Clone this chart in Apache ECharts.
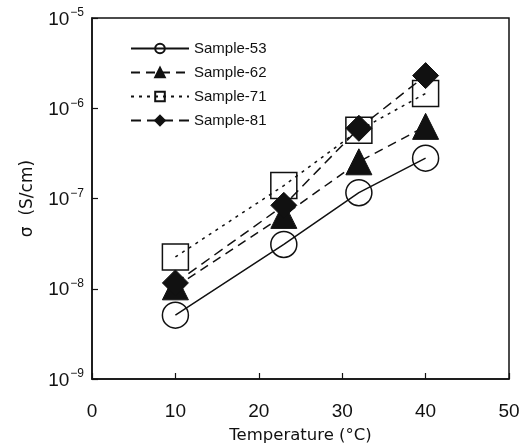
<!DOCTYPE html>
<html><head><meta charset="utf-8">
<script src="https://cdn.jsdelivr.net/npm/echarts@6/dist/echarts.min.js"></script>
<style>html,body{margin:0;padding:0;background:#fff}#c{width:521px;height:446px}</style>
</head><body><div id="c"></div>
<script>
var temps = [10, 23, 32, 40];
var sample53 = [5.1e-9, 3.1e-8, 1.16e-7, 2.8e-7];
var sample62 = [1.05e-8, 6.5e-8, 2.55e-7, 6.3e-7];
var sample71 = [2.25e-8, 1.39e-7, 5.7e-7, 1.46e-6];
var sample81 = [1.16e-8, 8.4e-8, 6.0e-7, 2.3e-6];
var seriesNames = ['Sample-53', 'Sample-62', 'Sample-71', 'Sample-81'];
var xTicks = [0, 10, 20, 30, 40, 50];
var yExps = [-9, -8, -7, -6, -5];

var FONT = 'Liberation Sans, Arial, sans-serif';
var FONT2 = 'DejaVu Sans, sans-serif';
function pairs(vals){ return temps.map(function(t,i){ return [t, vals[i]]; }); }
var ink = '#111';

function mk(name, vals, symbol, lineType, filled){
  return {
    name: name, type: 'line', data: pairs(vals),
    symbol: symbol, symbolSize: 26,
    lineStyle: {color: ink, width: 1.5, type: lineType},
    itemStyle: filled ? {color: ink, borderColor: ink, borderWidth: 1}
                      : {color: 'rgba(0,0,0,0)', borderColor: ink, borderWidth: 1.5},
    emphasis: {disabled: true},
    animation: false
  };
}

var chart = echarts.init(document.getElementById('c'), null, {renderer: 'canvas'});
chart.setOption({
  backgroundColor: '#fff',
  animation: false,
  grid: {left: 92, right: 12, top: 18, bottom: 67, containLabel: false, outerBoundsMode: 'none',
         show: true, borderColor: ink, borderWidth: 1.5, backgroundColor: 'transparent'},
  legend: {
    data: seriesNames, orient: 'vertical', left: 125, top: 36,
    itemWidth: 58, itemHeight: 12, itemGap: 9,
    textStyle: {fontFamily: FONT, fontSize: 15, color: ink, lineHeight: 13},
    inactiveColor: ink
  },
  xAxis: {
    type: 'value', min: 0, max: 50, interval: 10,
    name: 'Temperature (\u00B0C)', nameLocation: 'middle', nameGap: 48,
    nameTextStyle: {fontFamily: FONT2, fontSize: 16.5, color: ink},
    axisLine: {show: true, lineStyle: {color: ink, width: 1.5}},
    axisTick: {show: true, inside: true, length: 6, lineStyle: {color: ink, width: 1.2}},
    axisLabel: {fontFamily: FONT, fontSize: 19, color: ink, margin: 23,
      formatter: function(v){ return xTicks.indexOf(v) >= 0 ? String(v) : ''; }},
    splitLine: {show: false}
  },
  yAxis: {
    type: 'log', logBase: 10, min: 1e-9, max: 1e-5,
    name: '\u03C3  (S/cm)', nameLocation: 'middle', nameGap: 56,
    nameTextStyle: {fontFamily: FONT2, fontSize: 17, color: ink},
    axisLine: {show: true, lineStyle: {color: ink, width: 1.5}},
    axisTick: {show: true, inside: true, length: 6, lineStyle: {color: ink, width: 1.2}},
    axisLabel: {
      margin: 8, color: ink,
      formatter: function(v){
        var e = Math.round(Math.log10(v));
        if (yExps.indexOf(e) < 0) return '';
        return '{b|10}{s|\u2212' + Math.abs(e) + '}';
      },
      rich: {
        b: {fontFamily: FONT, fontSize: 19, color: ink, verticalAlign: 'bottom', lineHeight: 22},
        s: {fontFamily: FONT, fontSize: 12, color: ink, verticalAlign: 'top', lineHeight: 12, padding: [0,0,10,1]}
      }
    },
    splitLine: {show: false}
  },
  series: [
    mk('Sample-53', sample53, 'circle', 'solid', false),
    mk('Sample-62', sample62, 'triangle', [9, 6], true),
    mk('Sample-71', sample71, 'rect', [3, 5], false),
    mk('Sample-81', sample81, 'diamond', [10, 6], true)
  ]
});
</script></body></html>
